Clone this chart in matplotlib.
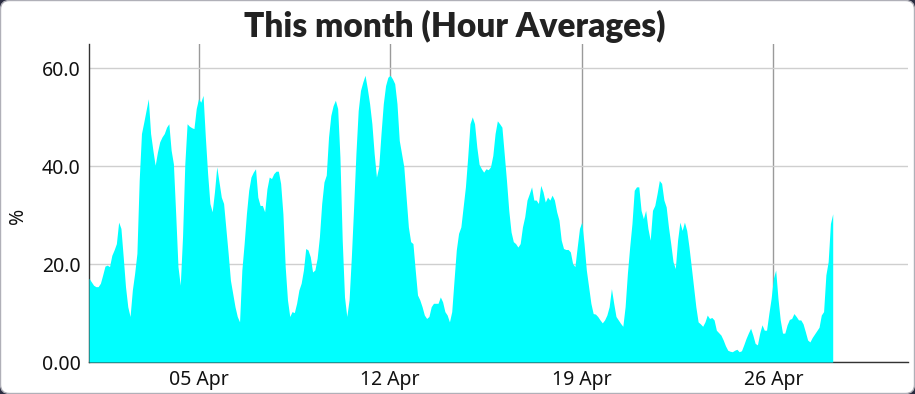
import matplotlib
matplotlib.use("Agg")
import matplotlib.pyplot as plt
from matplotlib.patches import FancyBboxPatch
from matplotlib.transforms import IdentityTransform
import pandas as pd

plt.rcParams['font.family'] = ['Noto Sans', 'DejaVu Sans']

# ---- data (2-hour averages) ----
start_time = "2025-04-01 00:00"
step = "2h"
values = [
    17.1, 16.4, 15.7, 15.4, 15.4, 16.1, 17.8, 19.6, 19.8, 19.5,
    21.8, 22.9, 24.2, 28.6, 27.3, 21.5, 15.4, 11.3, 9.3, 14.7,
    18.1, 22.2, 37.1, 46.7, 49.0, 51.4, 53.8, 46.7, 43.3, 40.2,
    42.9, 45.0, 46.0, 46.7, 48.0, 48.7, 43.3, 40.5, 30.3, 19.5,
    15.7, 25.6, 40.5, 48.7, 48.2, 47.9, 47.7,
    51.8, 53.8, 53.1, 54.5, 46.0, 38.5, 32.4, 30.7, 34.8, 39.9,
    36.8, 33.7, 32.4, 27.3, 22.2, 16.7, 14.0, 11.3, 9.3, 8.2,
    18.8, 24.2, 30.3, 35.1, 37.8, 38.8, 39.5, 33.7, 32.0, 32.0,
    30.7, 35.4, 37.8, 37.5, 38.5, 39.0, 39.0, 36.5, 30.3, 19.5,
    12.7, 9.3, 10.3, 10.1, 12.0, 14.7, 16.1,
    18.8, 23.2, 22.9, 21.5, 18.4, 18.8, 21.2, 25.6, 32.4, 36.8,
    38.2, 46.0, 50.4, 52.4, 53.5, 51.8, 41.9, 24.9, 13.3, 9.3,
    12.7, 21.5, 31.7, 42.6, 51.4, 55.5, 57.2, 58.6, 55.9, 52.8,
    48.7, 42.6, 37.8, 39.9, 46.7, 52.8, 56.5, 58.2, 58.6, 57.9,
    56.9, 52.8, 45.3, 42.6, 39.9, 33.7, 27.6,
    24.6, 24.2, 18.8, 13.7, 12.7, 11.3, 9.6, 8.9, 9.3, 11.3,
    12.0, 12.0, 12.0, 13.3, 12.3, 10.3, 9.6, 8.2, 10.3, 16.7,
    22.9, 26.3, 27.6, 31.7, 35.8, 41.9, 48.7, 50.1, 48.7, 43.9,
    40.4, 39.5, 38.8, 39.5, 39.3, 39.9, 42.2, 46.7, 49.3, 48.7,
    48.0, 42.6, 37.1, 31.0, 26.6, 24.6, 24.2,
    23.5, 24.2, 27.6, 29.7, 33.1, 34.4, 35.8, 33.1, 33.1, 32.4,
    36.1, 34.8, 32.7, 33.7, 33.1, 34.1, 33.1, 30.7, 29.0, 24.9,
    23.2, 23.0, 23.0, 22.5, 20.1, 19.5, 23.5, 27.3, 28.6, 24.2,
    18.8, 15.4, 12.0, 9.9, 9.8, 9.3, 8.6, 8.0, 8.6, 9.6,
    11.3, 15.0, 12.0, 9.3, 8.6, 7.9, 7.3,
    11.3, 18.1, 23.5, 28.3, 35.1, 35.8, 35.8, 31.0, 29.3, 31.0,
    27.3, 24.9, 31.0, 32.0, 34.4, 37.1, 36.5, 33.1, 31.7, 27.6,
    24.2, 20.5, 19.1, 24.9, 28.6, 26.9, 28.6, 26.9, 23.5, 19.5,
    15.4, 11.3, 8.2, 7.8, 7.3, 8.2, 9.6, 8.9, 9.1, 8.6,
    6.5, 6.0, 5.5, 4.5, 3.3, 2.4, 2.2, 2.1,
    2.4, 2.6, 2.1, 2.3, 3.5, 4.8, 5.9, 6.9, 5.5, 3.8,
    3.5, 5.9, 7.6, 6.5, 6.5, 9.9, 13.0, 17.1, 18.8, 13.0,
    8.6, 5.9, 5.9, 7.6, 8.7, 8.9, 9.9, 9.3, 8.6, 8.6,
    7.8, 6.2, 4.5, 4.1, 5.0, 5.7, 6.4, 7.1, 9.6, 10.3,
    17.8, 20.5, 28.3, 30.3,
]
times = pd.date_range(start_time, periods=len(values), freq=step)

tick_dates = ["2025-04-05", "2025-04-12", "2025-04-19", "2025-04-26"]
tick_labels = ["05 Apr", "12 Apr", "19 Apr", "26 Apr"]
y_ticks = [0, 20, 40, 60]
y_tick_labels = ["0.00", "20.0", "40.0", "60.0"]
title = "This month (Hour Averages)"
x_start = "2025-04-01 00:00"
x_end = "2025-04-30 22:00"

# ---- figure ----
fig = plt.figure(figsize=(9.15, 3.94), dpi=100)
fig.patch.set_facecolor("#2a2c40")
card = FancyBboxPatch((0.5, 0.5), 914, 393,
                      boxstyle="round,pad=0,rounding_size=9",
                      transform=IdentityTransform(),
                      facecolor="white", edgecolor="#b0b0b8", linewidth=1.0,
                      zorder=-10)
fig.add_artist(card)

ax = fig.add_axes([89/915, 1-362/394, (908-89)/915, (362-44)/394])
ax.set_facecolor("none")

ax.fill_between(times, values, 0, color="#00ffff", linewidth=0, zorder=3)

ax.set_xlim(pd.Timestamp(x_start), pd.Timestamp(x_end))
ax.set_ylim(0, 65)

ax.set_xticks([pd.Timestamp(d) for d in tick_dates])
ax.set_xticklabels(tick_labels)
ax.set_yticks(y_ticks)
ax.set_yticklabels(y_tick_labels)
ax.tick_params(axis="both", length=0, labelsize=14, colors="#111111", pad=6)

ax.grid(axis="x", color="#9a9a9a", linewidth=1.0, zorder=0)
ax.grid(axis="y", color="#cfcfcf", linewidth=1.0, zorder=0)
ax.set_axisbelow(True)

for s in ["top", "right"]:
    ax.spines[s].set_visible(False)
ax.spines["left"].set_color("#333333")
ax.spines["bottom"].set_color("#333333")
ax.spines["left"].set_linewidth(1.0)
ax.spines["bottom"].set_linewidth(1.0)

ax.set_ylabel("%", fontsize=14, color="#111111")
ax.yaxis.set_label_coords(-0.074, 0.46)

fig.text(0.497, 1-26/394, title, ha="center", va="center",
         fontsize=24, fontweight="heavy", family=["Lato", "DejaVu Sans"],
         color="#222222")

fig.savefig("out.png", dpi=100, facecolor=fig.get_facecolor())
